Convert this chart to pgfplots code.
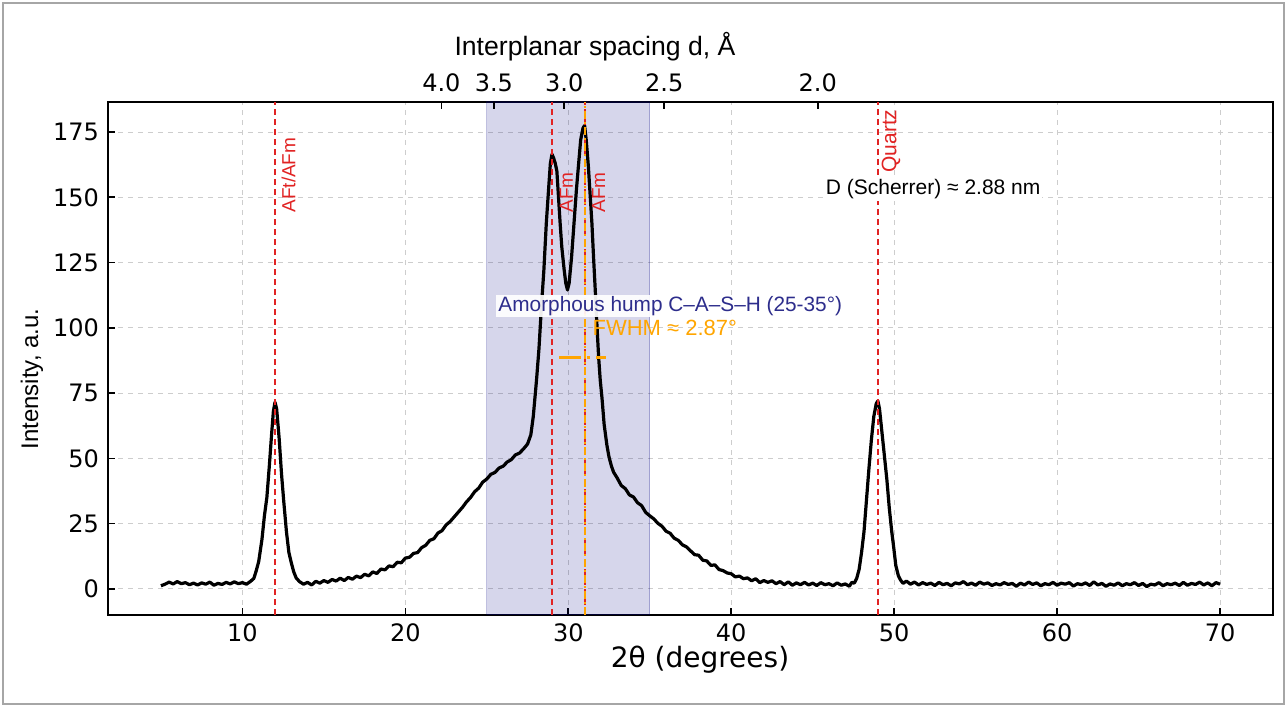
\documentclass[border=0pt]{standalone}
\usepackage{fontspec}
\setmainfont{Liberation Sans}
\newfontfamily\dvs{DejaVu Sans}
\usepackage{pgfplots}
\pgfplotsset{compat=1.18}
\definecolor{shade}{RGB}{0,0,128}
\definecolor{vred}{RGB}{225,35,35}
\definecolor{vorange}{RGB}{255,165,0}
\definecolor{hump}{RGB}{45,45,140}
\definecolor{gridc}{RGB}{205,205,205}
\begin{document}
\begin{tikzpicture}
\useasboundingbox (0,0) rectangle (643.5pt,353.5pt);
\draw[gray!70, line width=0.7pt] (1.5pt,1.5pt) rectangle (642pt,352pt);

% main axis: 2theta vs intensity
\begin{axis}[
  at={(54pt,46pt)}, anchor=south west,
  scale only axis, width=582.5pt, height=256.5pt,
  xmin=1.75, xmax=73.25, ymin=-10, ymax=186.5,
  xtick={10,20,30,40,50,60,70},
  ytick={0,25,50,75,100,125,150,175},
  xtick pos=left, ytick pos=left,
  tick align=inside, major tick length=3.5pt,
  tick style={black, line width=0.8pt},
  axis line style={line width=1.2pt},
  grid=major,
  major grid style={gridc, line width=0.5pt, dash pattern=on 2.5pt off 2.5pt},
  ticklabel style={font=\dvs\fontsize{12}{14}\selectfont},
  yticklabel style={xshift=-1pt},
  xticklabel style={yshift=-1pt},
  /pgf/number format/assume math mode=true,
]
% amorphous region 25-35
\addplot[draw=shade, draw opacity=0.25, fill=shade, fill opacity=0.16, line width=0.6pt]
  coordinates {(25,-10) (35,-10) (35,186.5) (25,186.5)} -- cycle;

% XRD pattern
\addplot[black, line width=1.6pt, line join=round] coordinates {
(5.0,1.2) (5.25,1.8) (5.5,2.6) (5.75,1.9) (6.0,2.8) (6.25,2.0) (6.5,2.4) (6.75,1.6)
(7.0,2.2) (7.25,1.5) (7.5,2.3) (7.75,1.8) (8.0,2.6) (8.25,1.4) (8.5,2.1) (8.75,1.7)
(9.0,2.5) (9.25,1.9) (9.5,2.7) (9.75,2.0) (10.0,2.4) (10.25,1.8) (10.5,2.9) (10.7,4.0)
(10.85,7) (11.0,10.5) (11.2,19) (11.35,28) (11.5,35) (11.65,47) (11.8,60) (11.9,68)
(12.0,71.5) (12.1,69) (12.25,58) (12.4,44) (12.53,34) (12.7,22) (12.85,14) (13.0,10)
(13.15,6.5) (13.3,4.2) (13.5,2.8) (13.75,1.8) (14.0,2.5) (14.25,1.5) (14.5,2.9) (14.75,2.2)
(15.0,3.2) (15.25,2.5) (15.5,3.6) (15.75,3.0) (16.0,4.1) (16.25,3.2) (16.5,4.4) (16.75,3.7)
(17.0,4.9) (17.25,4.3) (17.5,5.6) (17.75,5.0) (18.0,6.5) (18.25,5.9) (18.5,7.6) (18.75,7.3)
(19.0,8.8) (19.25,8.5) (19.5,10.2) (19.75,10.0) (20.0,11.8) (20.25,12.1) (20.5,13.6) (20.75,13.9)
(21.0,15.8) (21.25,16.7) (21.5,18.6) (21.75,19.2) (22.0,21.4) (22.25,22.3) (22.5,24.5) (22.75,25.8)
(23.0,27.6) (23.25,29.4) (23.5,31.2) (23.75,33.3) (24.0,35.0) (24.25,37.2) (24.5,38.6) (24.75,40.9)
(25.0,42.1) (25.25,43.9) (25.5,44.6) (25.75,46.3) (26.0,47.0) (26.25,48.6) (26.5,49.5) (26.75,51.3)
(27.0,52.0) (27.25,53.6) (27.5,55.5) (27.7,59) (27.85,66) (27.95,73) (28.05,80) (28.2,92)
(28.35,108) (28.5,122) (28.65,140) (28.8,154) (28.9,163) (29.0,166.5) (29.1,165) (29.2,163)
(29.3,160) (29.4,150) (29.5,140) (29.6,131) (29.75,122) (29.85,117) (29.95,114.5) (30.05,117)
(30.2,127) (30.35,140) (30.5,153) (30.65,164) (30.76,172) (30.9,176.5) (31.0,177.5) (31.1,172)
(31.23,162) (31.35,150) (31.45,140) (31.55,127) (31.65,115) (31.75,102) (31.86,89) (31.96,80)
(32.07,73) (32.2,63) (32.37,55) (32.5,50.5) (32.65,47) (32.78,44.7) (33.0,42.5) (33.25,39.6)
(33.5,38.4) (33.75,36.0) (34.0,35.2) (34.25,33.0) (34.5,31.9) (34.75,29.3) (35.0,28.0) (35.25,26.8)
(35.5,25.1) (35.75,24.0) (36.0,22.1) (36.25,21.3) (36.5,19.4) (36.75,18.6) (37.0,16.9) (37.25,16.1)
(37.5,14.6) (37.75,13.1) (38.0,12.9) (38.25,11.0) (38.5,10.7) (38.75,9.0) (39.0,9.2) (39.25,7.4)
(39.5,7.0) (39.75,6.1) (40.0,5.8) (40.25,4.6) (40.5,4.9) (40.75,3.9) (41.0,4.2) (41.25,3.1)
(41.5,3.9) (41.75,2.4) (42.0,3.2) (42.25,2.5) (42.5,3.1) (42.75,2.0) (43.0,2.8) (43.25,1.6)
(43.5,2.7) (43.75,1.4) (44.0,2.3) (44.25,1.6) (44.5,2.5) (44.75,1.5) (45.0,2.2) (45.25,1.3)
(45.5,2.4) (45.75,1.6) (46.0,2.0) (46.25,1.2) (46.5,2.3) (46.75,1.4) (47.0,1.9) (47.25,1.0)
(47.4,2.5) (47.55,2.2) (47.7,4.0) (47.85,7.5) (48.0,14) (48.15,22) (48.3,34) (48.45,46)
(48.6,57) (48.75,66) (48.9,71) (49.0,72) (49.1,69) (49.25,60) (49.4,51) (49.55,42)
(49.7,31) (49.85,22) (49.96,16.5) (50.1,9) (50.26,5) (50.4,3.3) (50.55,2.1) (50.75,3.0)
(51.0,1.8) (51.25,2.6) (51.5,1.5) (51.75,2.4) (52.0,1.7) (52.25,2.2) (52.5,1.3) (52.75,2.5)
(53.0,1.6) (53.25,2.1) (53.5,1.2) (53.75,2.3) (54.0,1.9) (54.25,2.8) (54.5,1.6) (54.75,2.2)
(55.0,1.4) (55.25,2.6) (55.5,1.8) (55.75,2.3) (56.0,1.3) (56.25,2.0) (56.5,1.5) (56.75,2.4)
(57.0,1.7) (57.25,2.1) (57.5,1.0) (57.75,2.2) (58.0,1.5) (58.25,2.6) (58.5,1.7) (58.75,2.3)
(59.0,1.2) (59.25,2.0) (59.5,1.6) (59.75,2.5) (60.0,1.4) (60.25,2.2) (60.5,1.8) (60.75,2.4)
(61.0,1.1) (61.25,2.0) (61.5,1.6) (61.75,2.3) (62.0,1.3) (62.25,2.7) (62.5,1.5) (62.75,2.1)
(63.0,1.0) (63.25,1.9) (63.5,1.4) (63.75,2.3) (64.0,1.2) (64.25,2.0) (64.5,1.6) (64.75,2.4)
(65.0,1.3) (65.25,2.1) (65.5,0.9) (65.75,1.8) (66.0,1.5) (66.25,2.4) (66.5,1.2) (66.75,2.0)
(67.0,1.6) (67.25,2.2) (67.5,1.3) (67.75,2.5) (68.0,1.4) (68.25,2.1) (68.5,1.7) (68.75,2.6)
(69.0,1.5) (69.25,2.3) (69.5,1.2) (69.75,2.4) (70.0,1.8)
};

% phase markers
\addplot[vred, line width=1pt, dash pattern=on 3pt off 2pt] coordinates {(12,-10) (12,186.5)};
\addplot[vred, line width=1pt, dash pattern=on 3pt off 2pt] coordinates {(29,-10) (29,186.5)};
\addplot[vred, line width=1pt, dash pattern=on 3pt off 2pt] coordinates {(31,-10) (31,186.5)};
\addplot[vred, line width=1pt, dash pattern=on 3pt off 2pt] coordinates {(49,-10) (49,186.5)};
\addplot[vorange, line width=1pt, dash pattern=on 4pt off 1.5pt on 1pt off 1.5pt] coordinates {(31,-10) (31,186.5)};

\node[rotate=90, anchor=west, inner sep=0pt, text=vred, font=\fontsize{9.5}{11}\selectfont] at (axis cs:12.84,144) {AFt/AFm};
\node[rotate=90, anchor=west, inner sep=0pt, text=vred, font=\fontsize{9.5}{11}\selectfont] at (axis cs:29.88,144) {AFm};
\node[rotate=90, anchor=west, inner sep=0pt, text=vred, font=\fontsize{9.5}{11}\selectfont] at (axis cs:31.86,144) {AFm};
\node[rotate=90, anchor=west, inner sep=0pt, text=vred, font=\fontsize{10.5}{12}\selectfont] at (axis cs:49.80,159.3) {Quartz};

% FWHM marker
\addplot[vorange, line width=1.75pt, dash pattern=on 11pt off 2.8pt on 1.75pt off 2.8pt] coordinates {(29.44,88.6) (32.31,88.6)};
\node[anchor=west, inner sep=0pt, text=vorange, font=\fontsize{11}{13}\selectfont] at (axis cs:31.47,99.8) {FWHM ≈ 2.87°};

\node[fill=white, fill opacity=0.92, text opacity=1, inner xsep=1pt, inner ysep=0.6pt, text=hump, font=\fontsize{10.4}{12}\selectfont] at (axis cs:36.26,108.4) {Amorphous hump C–A–S–H (25-35°)};
\node[anchor=west, fill=white, inner sep=1pt, font=\fontsize{10.5}{12}\selectfont] at (axis cs:45.66,153.2) {D (Scherrer) ≈ 2.88 nm};
\end{axis}

% top axis: interplanar spacing (Cu K-alpha)
\begin{axis}[
  at={(54pt,46pt)}, anchor=south west,
  scale only axis, width=582.5pt, height=256.5pt,
  xmin=1.75, xmax=73.25, ymin=0, ymax=1,
  xtick pos=right, ytick=\empty,
  axis line style={draw=none},
  tick align=inside, major tick length=3.5pt,
  tick style={black, line width=0.8pt},
  xtick={22.21,25.43,29.75,35.89,45.31},
  xticklabels={4.0,3.5,3.0,2.5,2.0},
  ticklabel style={font=\dvs\fontsize{12}{14}\selectfont},
  xticklabel style={yshift=1.5pt},
]
\addplot[draw=none] coordinates {(10,0.5)};
\end{axis}

\node[font=\fontsize{13.3}{15}\selectfont] at (297.5pt,330pt) {Interplanar spacing d, Å};
\node[font=\dvs\fontsize{14}{16}\selectfont] at (350pt,23.5pt) {2θ (degrees)};
\node[rotate=90, font=\fontsize{12}{14}\selectfont] at (16pt,164pt) {Intensity, a.u.};
\end{tikzpicture}
\end{document}
